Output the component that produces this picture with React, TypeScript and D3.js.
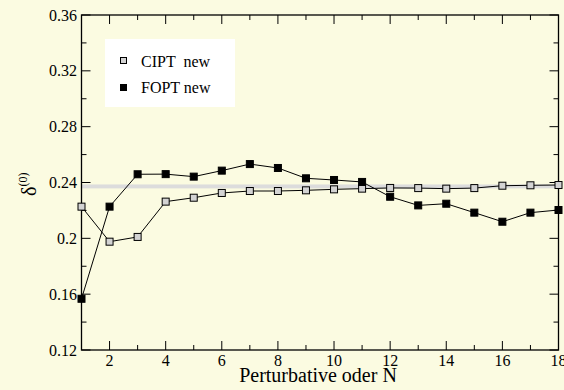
import React from "react";
import * as d3 from "d3";

const orders = [1, 2, 3, 4, 5, 6, 7, 8, 9, 10, 11, 12, 13, 14, 15, 16, 17, 18];
const ciptNew = [0.2227, 0.1976, 0.201, 0.2263, 0.2291, 0.2325, 0.2339, 0.2339, 0.2344, 0.2351, 0.2356, 0.2361, 0.236, 0.2356, 0.236, 0.2377, 0.238, 0.2382];
const foptNew = [0.1567, 0.2227, 0.2459, 0.246, 0.2442, 0.2485, 0.2532, 0.2504, 0.243, 0.2418, 0.2404, 0.2298, 0.2236, 0.2248, 0.2184, 0.2119, 0.2184, 0.2203];
const bandRange = [0.2358, 0.2386];
const yTicks = [0.12, 0.16, 0.2, 0.24, 0.28, 0.32, 0.36];
const yTickLabels = ["0.12", "0.16", "0.2", "0.24", "0.28", "0.32", "0.36"];
const yMinorTicks = [0.14, 0.18, 0.22, 0.26, 0.3, 0.34];
const xTicks = [2, 4, 6, 8, 10, 12, 14, 16, 18];
const xMinorTicks = [1, 3, 5, 7, 9, 11, 13, 15, 17];
const seriesNames = ["CIPT  new", "FOPT new"];

const W = 564, H = 390;
const L = 81.5, R = 558.5, T = 15, B = 350;
const FONT = "'Liberation Serif', 'DejaVu Serif', serif";

export default function App() {
  const x = d3.scaleLinear().domain([1, 18]).range([L, R]);
  const y = d3.scaleLinear().domain([0.12, 0.36]).range([B, T]);
  const line = d3.line<number>().x((_, i) => x(orders[i])).y((d) => y(d));
  const ms = 7;
  return (
    <svg width={W} height={H} style={{ position: "absolute", left: 0, top: 0, display: "block" }}>
      <rect x={0} y={0} width={W} height={H} fill="#fbfbe1" />
      <rect x={L} y={y(bandRange[1])} width={R - L} height={y(bandRange[0]) - y(bandRange[1])} fill="#dcdcdc" />
      {/* legend box */}
      <rect x={105} y={39} width={130} height={68} fill="#ffffff" />
      {/* axes frame */}
      <rect x={L} y={T} width={R - L} height={B - T} fill="none" stroke="#000" strokeWidth={1.3} />
      {xTicks.map((t) => (
        <g key={"xt" + t}>
          <line x1={x(t)} x2={x(t)} y1={B} y2={B - 9} stroke="#000" strokeWidth={1} />
          <line x1={x(t)} x2={x(t)} y1={T} y2={T + 9} stroke="#000" strokeWidth={1} />
          <text x={x(t)} y={366} textAnchor="middle" fontFamily={FONT} fontSize={16}>{t}</text>
        </g>
      ))}
      {xMinorTicks.map((t) => (
        <g key={"xm" + t}>
          <line x1={x(t)} x2={x(t)} y1={B} y2={B - 5} stroke="#000" strokeWidth={1} />
          <line x1={x(t)} x2={x(t)} y1={T} y2={T + 5} stroke="#000" strokeWidth={1} />
        </g>
      ))}
      {yTicks.map((t, i) => (
        <g key={"yt" + t}>
          <line x1={L} x2={L + 9} y1={y(t)} y2={y(t)} stroke="#000" strokeWidth={1} />
          <line x1={R} x2={R - 9} y1={y(t)} y2={y(t)} stroke="#000" strokeWidth={1} />
          <text x={77} y={y(t) + 5.5} textAnchor="end" fontFamily={FONT} fontSize={16}>{yTickLabels[i]}</text>
        </g>
      ))}
      {yMinorTicks.map((t) => (
        <g key={"ym" + t}>
          <line x1={L} x2={L + 5} y1={y(t)} y2={y(t)} stroke="#000" strokeWidth={1} />
          <line x1={R} x2={R - 5} y1={y(t)} y2={y(t)} stroke="#000" strokeWidth={1} />
        </g>
      ))}
      {/* series lines */}
      <path d={line(ciptNew) || ""} fill="none" stroke="#000" strokeWidth={1} />
      <path d={line(foptNew) || ""} fill="none" stroke="#000" strokeWidth={1} />
      {ciptNew.map((v, i) => (
        <rect key={"c" + i} x={x(orders[i]) - ms / 2} y={y(v) - ms / 2} width={ms} height={ms} fill="#d3d3d3" stroke="#000" strokeWidth={1} />
      ))}
      {foptNew.map((v, i) => (
        <rect key={"f" + i} x={x(orders[i]) - ms / 2} y={y(v) - ms / 2} width={ms} height={ms} fill="#000" stroke="#000" strokeWidth={1} />
      ))}
      {/* legend */}
      <rect x={120.5} y={57.5} width={6} height={6} fill="#d3d3d3" stroke="#000" strokeWidth={1} />
      <text x={141} y={66.5} fontFamily={FONT} fontSize={16} style={{ whiteSpace: "pre" }}>{seriesNames[0]}</text>
      <rect x={120} y={84} width={7} height={7} fill="#000" />
      <text x={141} y={93} fontFamily={FONT} fontSize={16} style={{ whiteSpace: "pre" }}>{seriesNames[1]}</text>
      {/* axis labels */}
      <text x={318} y={382} textAnchor="middle" fontFamily={FONT} fontSize={20}>Perturbative oder N</text>
      <g transform="translate(36,196) rotate(-90)">
        <text x={0} y={0} fontFamily={FONT} fontSize={20}>
          δ<tspan fontSize={12} dy={-9}>(0)</tspan>
        </text>
      </g>
    </svg>
  );
}
